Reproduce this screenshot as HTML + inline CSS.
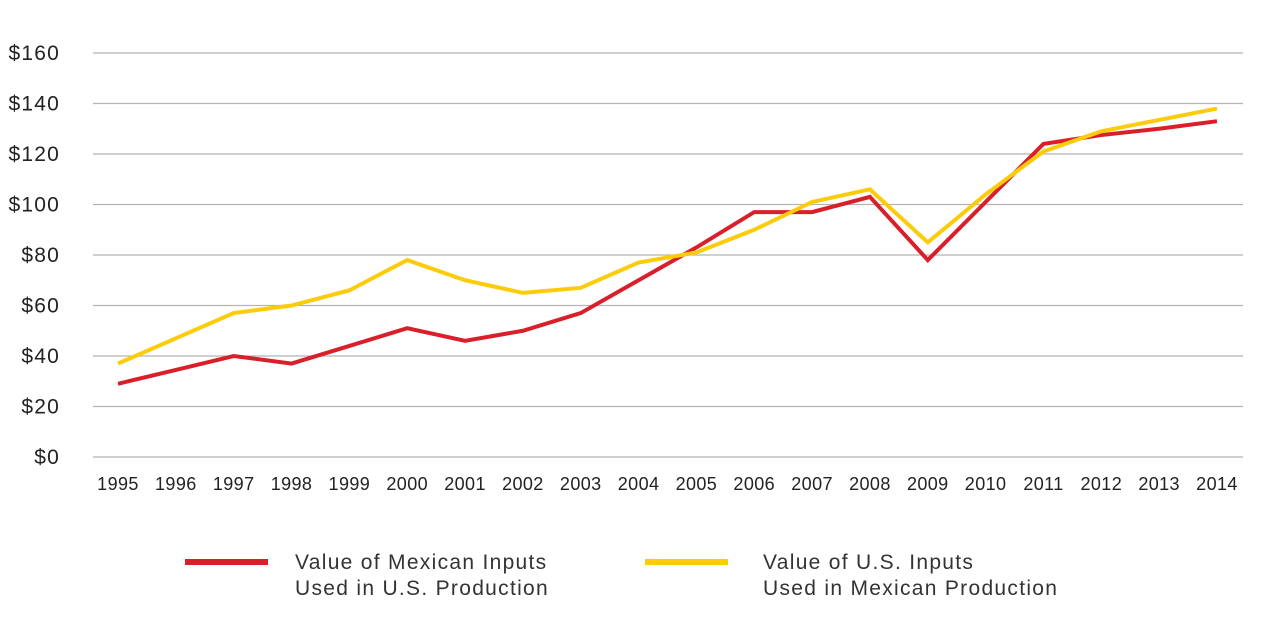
<!DOCTYPE html>
<html><head><meta charset="utf-8"><style>
body{margin:0;background:#fff;font-family:"Liberation Sans",sans-serif;}
svg{display:block}
</style></head><body>
<svg id="chart" width="1280" height="624" xmlns="http://www.w3.org/2000/svg">
<g id="grid"></g>
<g id="ylab"></g>
<g id="xlab"></g>
<g id="lines"></g>
<g>
<line x1="185" y1="562" x2="268" y2="562" stroke="#d91f2a" stroke-width="6"/>
<text x="295" y="569" font-size="21" letter-spacing="1.3" fill="#333">Value of Mexican Inputs</text>
<text x="295" y="595" font-size="21" letter-spacing="1.3" fill="#333">Used in U.S. Production</text>
<line x1="645" y1="562" x2="728" y2="562" stroke="#fccb0a" stroke-width="6"/>
<text x="763" y="569" font-size="21" letter-spacing="1.3" fill="#333">Value of U.S. Inputs</text>
<text x="763" y="595" font-size="21" letter-spacing="1.3" fill="#333">Used in Mexican Production</text>
</g>
</svg>
<script>
const years=[1995,1996,1997,1998,1999,2000,2001,2002,2003,2004,2005,2006,2007,2008,2009,2010,2011,2012,2013,2014];
const mexican=[29,34.5,40,37,44,51,46,50,57,70,83,97,97,103,78,101,124,127.5,130,133];
const us=[37,47,57,60,66,78,70,65,67,77,81,90,101,106,85,104,121,129,133.5,138];
const yTicks=[0,20,40,60,80,100,120,140,160];
const yTickLabels=["$0","$20","$40","$60","$80","$100","$120","$140","$160"];
const NS="http://www.w3.org/2000/svg";
const x=i=>118+i*(1217-118)/(years.length-1);
const y=v=>457-v*(457-53)/160;
function mk(t,a,p){const e=document.createElementNS(NS,t);for(const k in a)e.setAttribute(k,a[k]);p.appendChild(e);return e;}
const g=document.getElementById('grid'),yl=document.getElementById('ylab'),xl=document.getElementById('xlab'),ln=document.getElementById('lines');
yTicks.forEach((v,i)=>{
 const l=mk('line',{x1:93,x2:1243,y1:y(v),y2:y(v),stroke:'#b5b5b5','stroke-width':1.3},g);
 
 
 const t=mk('text',{x:60,y:y(v)+7,'font-size':21,'letter-spacing':1.2,fill:'#222','text-anchor':'end'},yl);
 t.textContent=yTickLabels[i];
 
 
});
years.forEach((yr,i)=>{
 const t=mk('text',{x:x(i),y:490,'font-size':18,'letter-spacing':0.4,fill:'#222','text-anchor':'middle'},xl);
 t.textContent=yr;
 
 
});
function series(vals,col,name){
 const p=mk('polyline',{points:vals.map((v,i)=>x(i)+','+y(v)).join(' '),fill:'none',stroke:col,'stroke-width':4,'stroke-linejoin':'miter'},ln);
 
 
}
series(mexican,'#d91f2a','mexican-inputs-line');
series(us,'#fccb0a','us-inputs-line');
</script>
</body></html>
